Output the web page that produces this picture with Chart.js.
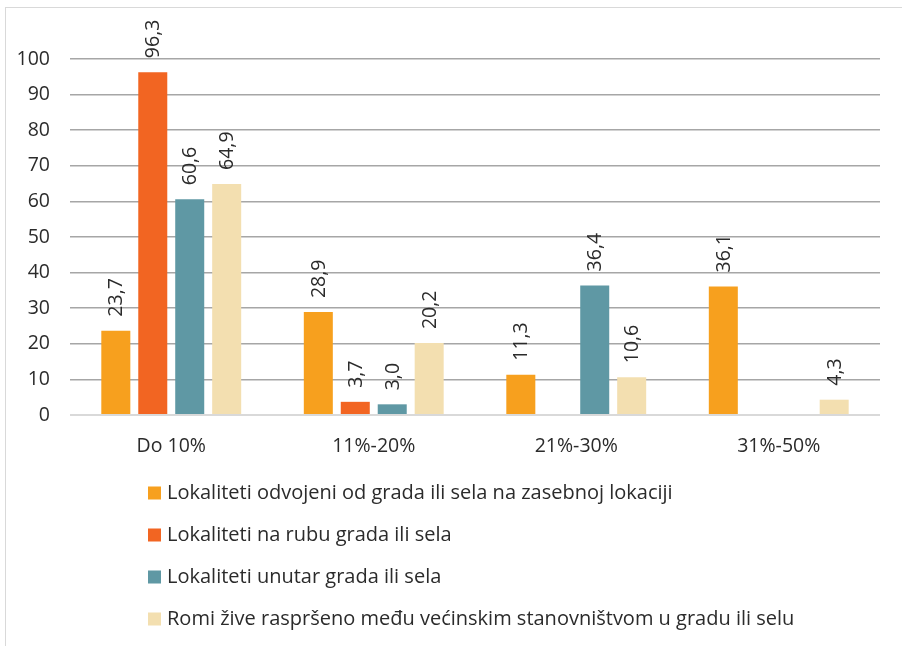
<!DOCTYPE html>
<html>
<head>
<meta charset="utf-8">
<script src="https://cdn.jsdelivr.net/npm/chart.js@4.4.1/dist/chart.umd.min.js"></script>
<style>
  html, body { margin: 0; padding: 0; background: #fff; }
  #wrap { position: relative; width: 902px; height: 646px; overflow: hidden; }
  #frame { position: absolute; left: 5px; top: 7px; width: 920px; height: 660px; border: 1.5px solid #d9d9d9; box-sizing: border-box; }
  #chart { position: absolute; left: 0; top: 0; }
</style>
</head>
<body>
<div id="wrap">
  <div id="frame"></div>
  <canvas id="chart" width="902" height="646"></canvas>
</div>
<script>
// kategorije i vrijednosti
const categories = ['Do 10%', '11%-20%', '21%-30%', '31%-50%'];
const seriesNames = [
  'Lokaliteti odvojeni od grada ili sela na zasebnoj lokaciji',
  'Lokaliteti na rubu grada ili sela',
  'Lokaliteti unutar grada ili sela',
  'Romi žive raspršeno među većinskim stanovništvom u gradu ili selu'
];
const odvojeni = [23.7, 28.9, 11.3, 36.1];
const naRubu = [96.3, 3.7, null, null];
const unutar = [60.6, 3.0, 36.4, null];
const rasprseno = [64.9, 20.2, 10.6, 4.3];
const yTicks = [0, 10, 20, 30, 40, 50, 60, 70, 80, 90, 100];

const colors = ['#f7a01e', '#f26522', '#5f98a4', '#f3dfb0'];
const fontFamily = '"Open Sans", sans-serif';
const textColor = '#2b2b2b';

// oznake vrijednosti, okrenute za 90 stupnjeva
const valueLabels = {
  id: 'valueLabels',
  afterDatasetsDraw(chart) {
    const ctx = chart.ctx;
    ctx.save();
    ctx.font = '19.5px ' + fontFamily;
    ctx.fillStyle = textColor;
    chart.data.datasets.forEach((ds, i) => {
      const meta = chart.getDatasetMeta(i);
      meta.data.forEach((bar, j) => {
        const v = ds.data[j];
        if (v === null || v === undefined) return;
        ctx.save();
        ctx.translate(bar.x + 1, bar.y - 14);
        ctx.rotate(-Math.PI / 2);
        ctx.textAlign = 'left';
        ctx.textBaseline = 'middle';
        ctx.fillText(v.toFixed(1).replace('.', ','), 0, 0);
        ctx.restore();
      });
    });
    ctx.restore();
  }
};

// legenda ispod grafikona, jedna stavka po retku
const listLegend = {
  id: 'listLegend',
  afterDraw(chart) {
    const ctx = chart.ctx;
    ctx.save();
    ctx.font = '20px ' + fontFamily;
    ctx.textBaseline = 'middle';
    ctx.textAlign = 'left';
    chart.data.datasets.forEach((ds, i) => {
      const y = 493 + i * 42;
      ctx.fillStyle = ds.backgroundColor;
      ctx.fillRect(148, y - 6.5, 13, 13);
      ctx.fillStyle = textColor;
      ctx.fillText(ds.label, 167, y);
    });
    ctx.restore();
  }
};

const ctx = document.getElementById('chart').getContext('2d');
new Chart(ctx, {
  type: 'bar',
  data: {
    labels: categories,
    datasets: [odvojeni, naRubu, unutar, rasprseno].map((d, i) => ({
      label: seriesNames[i],
      data: d,
      backgroundColor: colors[i],
      borderWidth: 0,
      categoryPercentage: 0.73,
      barPercentage: 0.785
    }))
  },
  options: {
    responsive: false,
    animation: false,
    layout: { padding: { top: 59, left: 18, right: 22, bottom: 171 } },
    scales: {
      x: {
        grid: { display: false },
        border: { display: false },
        afterFit(scale) { scale.height = 60; },
        ticks: { color: textColor, font: { family: fontFamily, size: 19.5 }, padding: 12 }
      },
      y: {
        min: 0,
        max: 100,
        afterBuildTicks(axis) {
          axis.ticks = yTicks.map(v => ({ value: v }));
        },
        afterFit(scale) { scale.width = 52; },
        border: { display: false },
        grid: {
          drawTicks: false,
          lineWidth: ctx => ctx.tick && ctx.tick.value === 0 ? 2 : 1.5,
          color: ctx => ctx.tick && ctx.tick.value === 0 ? '#d9d9d9' : '#a6a6a6'
        },
        ticks: { color: textColor, font: { family: fontFamily, size: 19.5 }, padding: 20 }
      }
    },
    plugins: {
      legend: { display: false },
      tooltip: { enabled: false }
    }
  },
  plugins: [valueLabels, listLegend]
});
</script>
</body>
</html>
